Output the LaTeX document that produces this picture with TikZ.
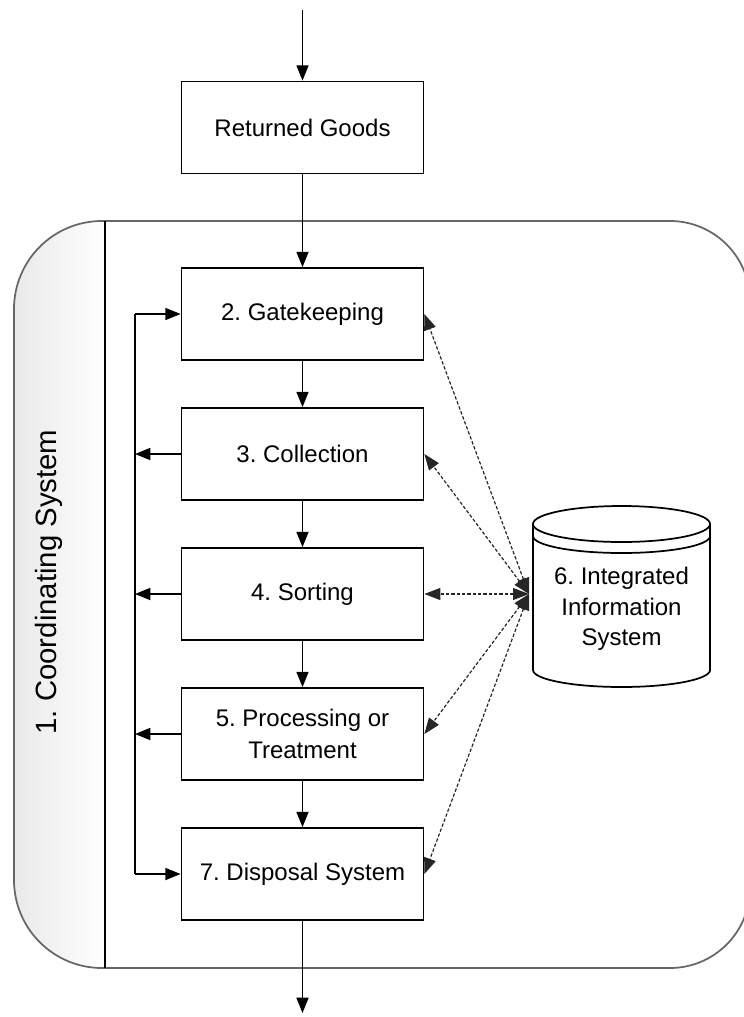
\documentclass[tikz,border=0pt]{standalone}
\usepackage{fontspec}
\setmainfont{Liberation Sans}
\usetikzlibrary{arrows.meta}
\begin{document}
\frenchspacing
\begin{tikzpicture}[x=0.75pt, y=-0.75pt,
  line join=miter,
  stage/.style={draw, line width=1.3pt, fill=white, minimum width=181.5pt,
    minimum height=69pt, inner sep=0pt, align=center,
    font=\fontsize{18}{23.5}\selectfont},
  flow/.style={line width=1.3pt, -{Triangle[length=11.5pt,width=9pt]}},
  info/.style={line width=0.9pt, draw=black!85, dash pattern=on 2.5pt off 1.5pt,
    {Triangle[length=12pt,width=9pt]}-{Triangle[length=12pt,width=9pt]}},
  frameline/.style={draw=black!60, line width=1.3pt}]
\useasboundingbox (0,0) rectangle (743,1017);

% outer coordinating frame with shaded side band
\def\framepath{(14,600) [rounded corners=66pt] |- (400,221)
  [rounded corners=60pt] -| (750,600) |- (400,968)
  [rounded corners=66pt] -| (14,600) -- cycle}
\begin{scope}
  \clip \framepath;
  \fill[left color=black!9, right color=white] (10,215) rectangle (105,975);
\end{scope}
\path[frameline] \framepath;
\draw[line width=1.3pt] (105,221) -- (105,968);
\node[rotate=90, anchor=base, font=\fontsize{22}{26}\selectfont] (coord)
  at (56,582) {1. Coordinating System};

% process stages
\node[stage] (rg)   at (302.5,127.5) {Returned Goods};
\node[stage] (gate) at (302.5,314) {2. Gatekeeping};
\node[stage] (coll) at (302.5,454) {3. Collection};
\node[stage] (sort) at (302.5,594) {4. Sorting};
\node[stage] (proc) at (302.5,734) {5. Processing or\\Treatment};
\node[stage] (disp) at (302.5,874) {7. Disposal System};

% main flow
\coordinate (in)  at (302.5,10);
\coordinate (out) at (302.5,1013);
\draw[flow] (in) -- (rg.north);
\draw[flow] (rg.south) -- (gate.north);
\draw[flow] (gate.south) -- (coll.north);
\draw[flow] (coll.south) -- (sort.north);
\draw[flow] (sort.south) -- (proc.north);
\draw[flow] (proc.south) -- (disp.north);
\draw[flow] (disp.south) -- (out);

% return loop on the left
\coordinate (lt) at (135,314);
\coordinate (lb) at (135,874);
\draw[line width=1.3pt] (lt) -- (lb);
\draw[flow] (lt) -- (gate.west);
\draw[flow] (lb) -- (disp.west);
\draw[flow] (coll.west) -- (coll.west -| lt);
\draw[flow] (sort.west) -- (sort.west -| lt);
\draw[flow] (proc.west) -- (proc.west -| lt);

% information system drum
\begin{scope}[line width=1.3pt]
  \filldraw[fill=white] (533,524) -- (533,670)
    arc[start angle=180, end angle=360, x radius=66.4pt, y radius=12.75pt]
    -- (710,524);
  \draw[fill=white] (621.5,524) ellipse[x radius=66.4pt, y radius=13.5pt];
  \draw (533,536)
    arc[start angle=180, end angle=360, x radius=66.4pt, y radius=12.75pt];
\end{scope}
\node[minimum width=132.75pt, minimum height=136.5pt, inner sep=0pt,
  align=center, font=\fontsize{18}{23}\selectfont] (iis)
  at (621.5,609) {6. Integrated\\Information\\System};
\coordinate (hub) at (529,594);

% information links
\draw[info] (hub) -- (gate.east);
\draw[info] (hub) -- (coll.east);
\draw[info] (hub) -- (sort.east);
\draw[info] (hub) -- (proc.east);
\draw[info] (hub) -- (disp.east);
\end{tikzpicture}
\end{document}
